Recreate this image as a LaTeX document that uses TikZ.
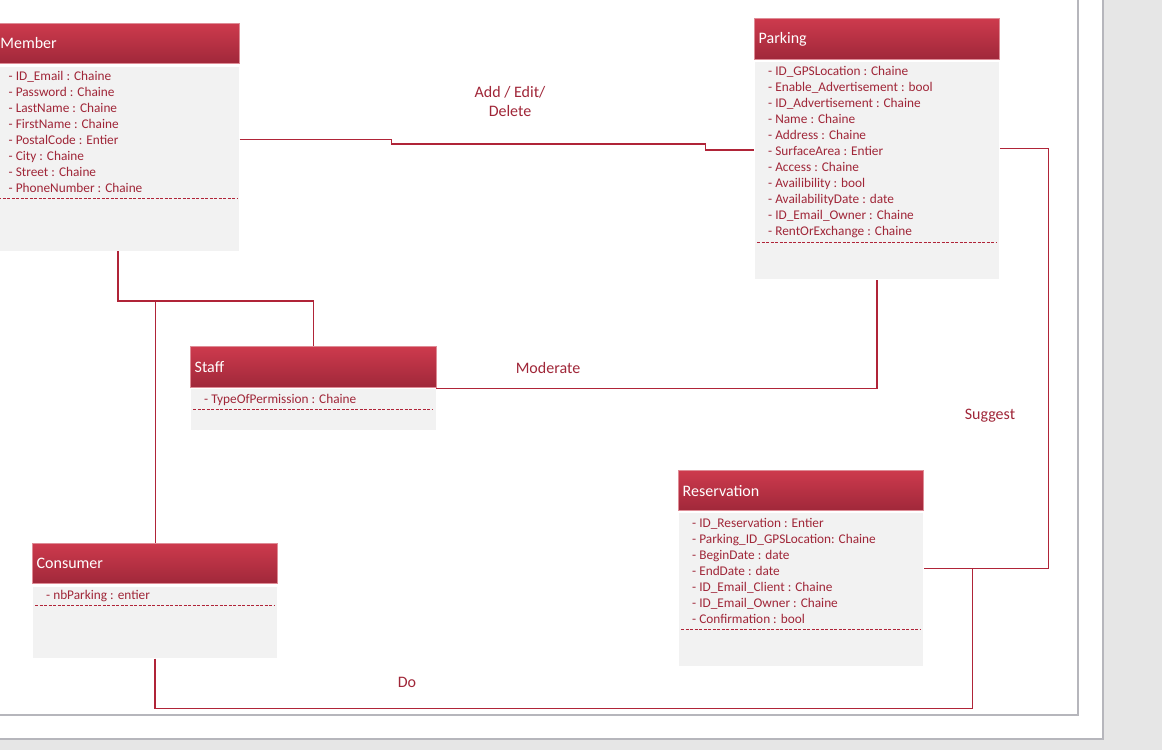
\documentclass[tikz,border=0pt]{standalone}
\usepackage{fontspec}
\setmainfont{Carlito}
\usepackage{tikz}
\usetikzlibrary{positioning}
\definecolor{headtop}{RGB}{205, 58, 77}
\definecolor{headbottom}{RGB}{160, 40, 58}
\definecolor{headedge}{RGB}{222, 140, 150}
\definecolor{bodygray}{RGB}{242, 242, 242}
\definecolor{attrred}{RGB}{160, 38, 56}
\definecolor{linkred}{RGB}{176, 36, 56}
\definecolor{pagegray}{RGB}{230, 230, 230}
\definecolor{framegray}{RGB}{182, 182, 188}

\tikzset{
  classhead/.style={rectangle, anchor=north west, top color=headtop, bottom color=headbottom,
    draw=headedge, line width=0.8pt, text=white, font=\fontsize{16}{19}\selectfont,
    align=left, inner xsep=4pt, inner ysep=0pt, minimum height=40pt},
  classbody/.style={rectangle, anchor=north west, fill=bodygray, draw=white, line width=0.6pt,
    inner sep=0pt},
  attrs/.style={anchor=base west, inner sep=0pt, align=left, text=attrred,
    font=\fontsize{13.3}{16}\selectfont},
  sepline/.style={draw=linkred, line width=1pt, dash pattern=on 3pt off 1.5pt},
  link/.style={draw=linkred, line width=1.4pt},
  linklabel/.style={text=attrred, align=center, font=\fontsize{16}{19}\selectfont}
}

\begin{document}
\begin{tikzpicture}[x=1pt,y=-1pt]
  \useasboundingbox (0,0) rectangle (1162,750);
  \clip (0,0) rectangle (1162,750);
  % page
  \fill[pagegray] (0,0) rectangle (1162,750);
  \fill[white] (0,0) rectangle (1103,739);
  \draw[framegray, line width=1.2pt] (1103,0) -- (1103,739) -- (0,739);
  \draw[framegray, line width=1.2pt] (1078,0) -- (1078,715) -- (0,715);

  % Member (attribute nodes sit on the baseline of their last line)
  \node[classhead, text width=235pt] (memberhead) at (-4,23) {Member};
  \node[classbody, minimum width=243pt, minimum height=185pt] (memberbody) at (-4,65.5) {};
  \node[attrs] (memberattrs) at (8.5,192.5) {- ID\_Email : Chaine\\- Password : Chaine\\- LastName : Chaine\\- FirstName : Chaine\\- PostalCode : Entier\\- City : Chaine\\- Street : Chaine\\- PhoneNumber : Chaine};
  \draw[sepline] (-2,198) -- (237,198);

  % Parking
  \node[classhead, text width=237pt, minimum height=40.4pt] (parkinghead) at (754.3,18.3) {Parking};
  \node[classbody, minimum width=245pt, minimum height=218.3pt] (parkingbody) at (754.3,60.7) {};
  \node[attrs] (parkingattrs) at (768,235.5) {- ID\_GPSLocation : Chaine\\- Enable\_Advertisement : bool\\- ID\_Advertisement : Chaine\\- Name : Chaine\\- Address : Chaine\\- SurfaceArea : Entier\\- Access : Chaine\\- Availibility : bool\\- AvailabilityDate : date\\- ID\_Email\_Owner : Chaine\\- RentOrExchange : Chaine};
  \draw[sepline] (757,242) -- (997,242);

  % Staff
  \node[classhead, text width=237.4pt, minimum height=40.4pt] (staffhead) at (190.3,346.3) {Staff};
  \node[classbody, minimum width=245.4pt, minimum height=41.7pt] (staffbody) at (190.3,388.3) {};
  \node[attrs] (staffattrs) at (204,403.3) {- TypeOfPermission : Chaine};
  \draw[sepline] (193,409.3) -- (433,409.3);

  % Consumer
  \node[classhead, text width=237pt, minimum height=40.6pt] (consumerhead) at (32.3,542.7) {Consumer};
  \node[classbody, minimum width=245pt, minimum height=72pt] (consumerbody) at (32.3,586) {};
  \node[attrs] (consumerattrs) at (46,599.3) {- nbParking : entier};
  \draw[sepline] (35,605.3) -- (275,605.3);

  % Reservation
  \node[classhead, text width=237pt] (reservationhead) at (678.3,470.3) {Reservation};
  \node[classbody, minimum width=245pt, minimum height=153.7pt] (reservationbody) at (678.3,512.3) {};
  \node[attrs] (reservationattrs) at (692,623.6) {- ID\_Reservation : Entier\\- Parking\_ID\_GPSLocation: Chaine\\- BeginDate : date\\- EndDate : date\\- ID\_Email\_Client : Chaine\\- ID\_Email\_Owner : Chaine\\- Confirmation : bool};
  \draw[sepline] (681,629.3) -- (921,629.3);

  % associations
  \draw[link] (memberbody.east |- 0,139.3) -- (391.5,139.3) -- (391.5,144) -- (705.3,144)
    -- (705.3,150) -- (parkingbody.west |- 0,150);
  \draw[link] (memberbody.south) -- ++(0,50) coordinate (split) -| (staffhead.north);
  \draw[link] (split) -| (consumerhead.north);
  \draw[link] (staffbody.north east) -| (parkingbody.south);
  \draw[link] (parkingbody.east |- 0,148.3) -| (1048.3,568.3) coordinate (corner)
    -- (reservationbody.east |- corner);
  \coordinate (turn) at (972.3,568.3);
  \draw[link] (consumerbody.south) |- (972.3,708.3) -- (turn);

  \node[linklabel] (addlabel) at (510,101.5) {Add / Edit/\\Delete};
  \node[linklabel] (moderatelabel) at (548,368) {Moderate};
  \node[linklabel] (suggestlabel) at (990,416) {Suggest};
  \node[linklabel] (dolabel) at (407,682) {Do};
\end{tikzpicture}
\end{document}
